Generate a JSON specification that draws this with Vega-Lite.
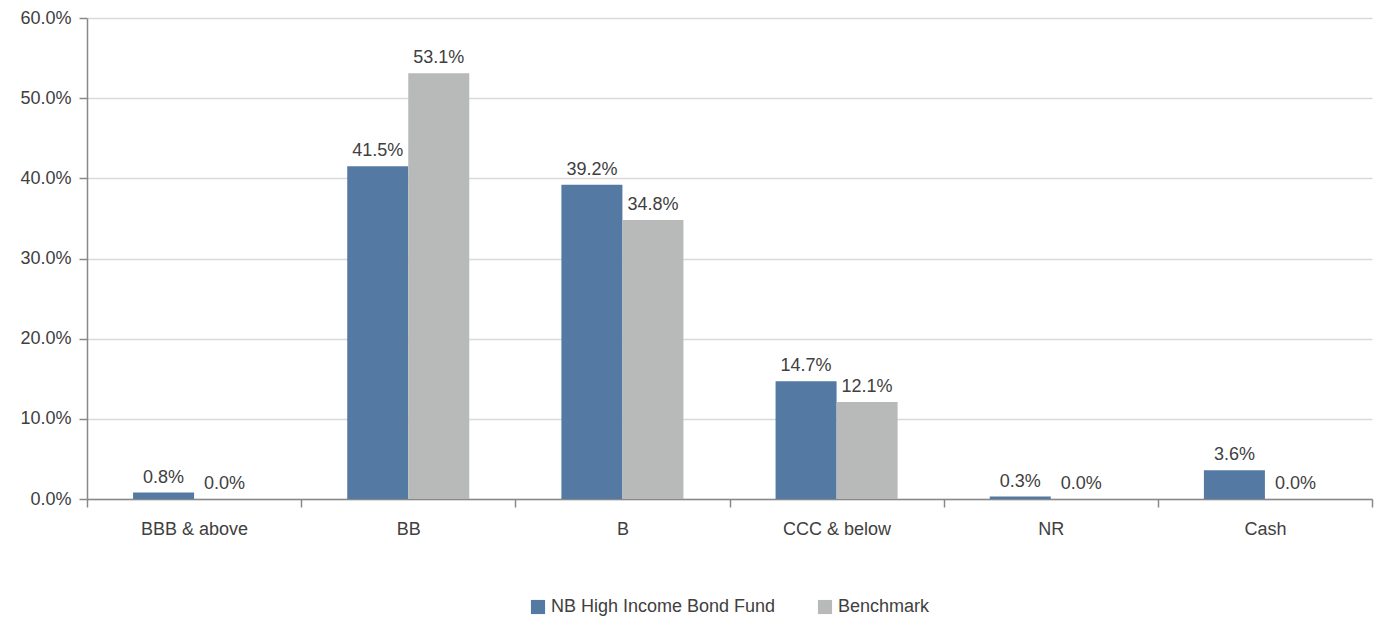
{
  "$schema": "https://vega.github.io/schema/vega-lite/v6.json",
  "width": 1375,
  "height": 618,
  "autosize": {"type": "fit", "contains": "padding"},
  "padding": {"left": 19, "top": 9, "right": 2, "bottom": 2},
  "background": "white",
  "config": {
    "font": "Liberation Sans",
    "view": {"stroke": null},
    "legend": {"layout": {"bottom": {"anchor": "middle"}}}
  },
  "data": {
    "values": [
      {"rating": "BBB & above", "series": "NB High Income Bond Fund", "value": 0.008},
      {"rating": "BBB & above", "series": "Benchmark", "value": 0.0},
      {"rating": "BB", "series": "NB High Income Bond Fund", "value": 0.415},
      {"rating": "BB", "series": "Benchmark", "value": 0.531},
      {"rating": "B", "series": "NB High Income Bond Fund", "value": 0.392},
      {"rating": "B", "series": "Benchmark", "value": 0.348},
      {"rating": "CCC & below", "series": "NB High Income Bond Fund", "value": 0.147},
      {"rating": "CCC & below", "series": "Benchmark", "value": 0.121},
      {"rating": "NR", "series": "NB High Income Bond Fund", "value": 0.003},
      {"rating": "NR", "series": "Benchmark", "value": 0.0},
      {"rating": "Cash", "series": "NB High Income Bond Fund", "value": 0.036},
      {"rating": "Cash", "series": "Benchmark", "value": 0.0}
    ]
  },
  "encoding": {
    "x": {
      "field": "rating",
      "type": "nominal",
      "sort": null,
      "scale": {"paddingInner": 0, "paddingOuter": 0},
      "axis": {
        "title": null,
        "labelAngle": 0,
        "labelFontSize": 18,
        "labelColor": "#404040",
        "labelPadding": 13,
        "tickBand": "extent",
        "tickColor": "#898989",
        "tickSize": 8,
        "domainColor": "#898989",
        "domainWidth": 1.5,
        "tickWidth": 1.5
      }
    },
    "xOffset": {
      "field": "series",
      "type": "nominal",
      "sort": ["NB High Income Bond Fund", "Benchmark"],
      "scale": {"paddingInner": 0, "paddingOuter": 0.755}
    },
    "y": {
      "field": "value",
      "type": "quantitative",
      "scale": {"domain": [0, 0.6], "nice": false},
      "axis": {
        "title": null,
        "format": ".1%",
        "values": [0, 0.1, 0.2, 0.3, 0.4, 0.5, 0.6],
        "labelFontSize": 18,
        "labelColor": "#404040",
        "labelPadding": 8,
        "tickColor": "#898989",
        "tickSize": 8,
        "tickWidth": 1.5,
        "domainColor": "#898989",
        "domainWidth": 1.5,
        "gridColor": "#d9d9d9",
        "gridWidth": 1.5
      }
    },
    "color": {
      "field": "series",
      "type": "nominal",
      "sort": ["NB High Income Bond Fund", "Benchmark"],
      "scale": {"domain": ["NB High Income Bond Fund", "Benchmark"], "range": ["#5479a3", "#b8b9b9"]},
      "legend": {
        "title": null,
        "orient": "bottom",
        "direction": "horizontal",
        "symbolType": "square",
        "symbolSize": 200,
        "symbolStrokeWidth": 0,
        "labelFontSize": 18,
        "labelLimit": 0,
        "labelColor": "#404040",
        "columnPadding": 40,
        "offset": 60
      }
    }
  },
  "layer": [
    {"mark": {"type": "bar"}},
    {
      "mark": {"type": "text", "baseline": "bottom", "dy": -6, "fontSize": 18, "color": "#404040"},
      "encoding": {
        "text": {"field": "value", "type": "quantitative", "format": ".1%"},
        "color": {"value": "#404040"}
      }
    }
  ]
}
